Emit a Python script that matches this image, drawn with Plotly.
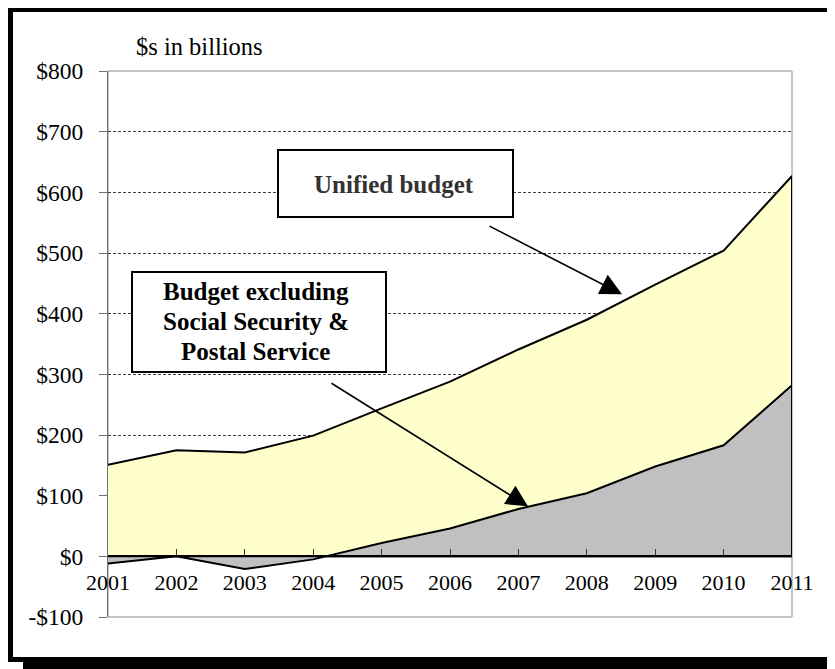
import plotly.graph_objects as go

years = [2001, 2002, 2003, 2004, 2005, 2006, 2007, 2008, 2009, 2010, 2011]
year_labels = [str(y) for y in years]
unified = [151, 175, 171, 199, 244, 288, 341, 390, 448, 504, 627]
excluding = [-12, 0, -21, -5, 22, 46, 78, 104, 148, 183, 282]
y_ticks = [-100, 0, 100, 200, 300, 400, 500, 600, 700, 800]
y_tick_labels = ["-$100", "$0", "$100", "$200", "$300", "$400", "$500", "$600", "$700", "$800"]
unified_label = ["Unified budget"]
excluding_label = ["Budget excluding", "Social Security &", "Postal Service"]

OFF = 8  # page body margin
W, H = 835 - OFF, 669 - OFF
L, R, T, B = 108, 792, 71, 617
FONT = "Times New Roman"


def px(xp):
    return (xp - L) / (R - L)


def py(yp):
    return (B - yp) / (B - T)


fig = go.Figure()
fig.add_trace(go.Scatter(
    x=years + [years[-1], years[0]], y=unified + [0, 0],
    fill="toself", fillcolor="#FFFFCC", mode="lines",
    line=dict(color="black", width=2), hoverinfo="skip", showlegend=False))
fig.add_trace(go.Scatter(
    x=years + [years[-1], years[0]], y=excluding + [0, 0],
    fill="toself", fillcolor="#C0C0C0", mode="lines",
    line=dict(color="black", width=2), hoverinfo="skip", showlegend=False))

shapes = [
    dict(type="rect", xref="paper", yref="paper", x0=0, y0=0, x1=1, y1=1,
         line=dict(color="#8c8c8c", width=1), layer="below"),
    dict(type="rect", xref="paper", yref="paper", x0=px(10.5), y0=py(9.5),
         x1=px(831.5), y1=py(659.5), line=dict(color="black", width=5), layer="above"),
    dict(type="rect", xref="paper", yref="paper", x0=px(23), y0=py(662),
         x1=px(836), y1=py(670), line=dict(width=0), fillcolor="black", layer="above"),
    dict(type="rect", xref="paper", yref="paper", x0=px(834), y0=py(20),
         x1=px(836), y1=py(670), line=dict(width=0), fillcolor="black", layer="above"),
    dict(type="rect", xref="paper", yref="paper", x0=px(278), y0=py(150),
         x1=px(513), y1=py(217), line=dict(color="black", width=2),
         fillcolor="white", layer="above"),
    dict(type="rect", xref="paper", yref="paper", x0=px(132), y0=py(272),
         x1=px(386), y1=py(372), line=dict(color="black", width=2),
         fillcolor="white", layer="above"),
]

annotations = [
    dict(text="$s in billions", xref="paper", yref="paper", x=px(134), y=py(47),
         xanchor="left", yanchor="middle", showarrow=False,
         font=dict(family=FONT, size=24.5, color="black")),
    dict(text="", x=2001 + (622 - L) / (R - L) * 10, y=(555 - 293) / 0.6067,
         ax=488 - 622, ay=224 - 293, showarrow=True, arrowhead=2, arrowsize=2.7,
         arrowwidth=1.6, arrowcolor="black", standoff=0),
    dict(text="", x=2001 + (528 - L) / (R - L) * 10, y=(555 - 505) / 0.6067,
         ax=330 - 528, ay=381 - 505, showarrow=True, arrowhead=2, arrowsize=2.7,
         arrowwidth=1.6, arrowcolor="black", standoff=0),
    dict(text="<b>" + unified_label[0] + "</b>", xref="paper", yref="paper",
         x=px(394), y=py(184), xanchor="center", yanchor="middle", showarrow=False,
         font=dict(family=FONT, size=25, color="#333333")),
]
for i, line in enumerate(excluding_label):
    annotations.append(dict(
        text="<b>" + line + "</b>", xref="paper", yref="paper",
        x=px(255.5), y=py(291 + 30 * i), xanchor="center", yanchor="middle",
        showarrow=False, font=dict(family=FONT, size=25, color="black")))

fig.update_layout(
    width=W, height=H,
    font=dict(family=FONT, color="black"),
    margin=dict(l=L - OFF, r=W - (R - OFF), t=T - OFF, b=H - (B - OFF), pad=0),
    paper_bgcolor="white", plot_bgcolor="rgba(0,0,0,0)",
    shapes=shapes, annotations=annotations, showlegend=False,
    xaxis=dict(range=[2001, 2011], tickvals=years, ticktext=year_labels,
               anchor="free", position=100 / 900, showline=True, linecolor="black",
               linewidth=2, ticks="inside", ticklen=6, tickcolor="#333333",
               tickwidth=1, showgrid=False, zeroline=False, ticklabelstandoff=6,
               tickfont=dict(family=FONT, size=22, color="black")),
    yaxis=dict(range=[-100, 800], tickvals=y_ticks, ticktext=y_tick_labels,
               showline=True, linecolor="#707070", linewidth=1, ticks="outside",
               ticklen=8, tickcolor="#707070", showgrid=True, gridcolor="#404040",
               griddash="3px,2px", gridwidth=1, zeroline=False,
               ticklabelstandoff=11,
               tickfont=dict(family=FONT, size=23.5, color="black")),
)

fig.write_html("out.html")
